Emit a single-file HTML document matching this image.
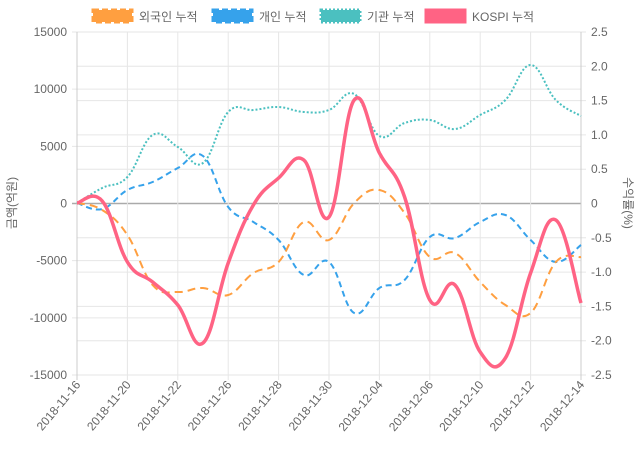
<!DOCTYPE html>
<html><head><meta charset="utf-8"><style>
body{margin:0;background:#fff;width:640px;height:450px;overflow:hidden}
text{font-family:"Liberation Sans","Noto Sans CJK KR",sans-serif;fill:#666;font-size:12px}
</style></head><body>
<svg id="s" width="640" height="450" xmlns="http://www.w3.org/2000/svg">
<g id="grid"></g>
<g id="lines"></g>
<g id="labels"></g>
<g>
<rect x="93" y="10" width="39" height="12" fill="#ff9f40" stroke="#ff9f40" stroke-width="3" stroke-dasharray="6 3"/>
<text x="139" y="21">외국인 누적</text>
<rect x="213" y="10" width="39" height="12" fill="#36a2eb" stroke="#36a2eb" stroke-width="3" stroke-dasharray="6 3"/>
<text x="259" y="21">개인 누적</text>
<rect x="321" y="10" width="39" height="12" fill="#4bc0c0" stroke="#4bc0c0" stroke-width="3" stroke-dasharray="2 2"/>
<text x="367" y="21">기관 누적</text>
<rect x="426" y="10" width="39" height="12" fill="#ff6384" stroke="#ff6384" stroke-width="3"/>
<text x="472" y="21">KOSPI 누적</text>
</g>
<text transform="translate(16,203) rotate(-90)" text-anchor="middle">금액(억원)</text>
<text transform="translate(624,203) rotate(90)" text-anchor="middle">수익률(%)</text>
</svg>
<script>
var NS="http://www.w3.org/2000/svg",x0=77,x1=581,yT=32,yB=375,n=21,dx=(x1-x0)/20;
function el(p,t,a,txt){var e=document.createElementNS(NS,t);for(var k in a)e.setAttribute(k,a[k]);if(txt)e.textContent=txt;p.appendChild(e);return e;}
var g=document.getElementById('grid'),L=document.getElementById('labels'),ln=document.getElementById('lines');
for(var i=0;i<=6;i++){var y=yT+i*(yB-yT)/6;el(g,'line',{x1:x0-5,x2:x1,y1:y,y2:y,stroke:i==3?'#aaa':'#e6e6e6','stroke-width':i==3?1.5:1});
el(L,'text',{x:x0-10,y:y+4,'text-anchor':'end'},String(15000-5000*i));}
for(var i=0;i<=10;i++){var y=yT+i*(yB-yT)/10;if(i!=5)el(g,'line',{x1:x0,x2:x1+5,y1:y,y2:y,stroke:'#e6e6e6'});
var v=(2.5-0.5*i);el(L,'text',{x:x1+10,y:y+4},v==0?'0':v.toFixed(1));}
var d=['2018-11-16','2018-11-20','2018-11-22','2018-11-26','2018-11-28','2018-11-30','2018-12-04','2018-12-06','2018-12-10','2018-12-12','2018-12-14'];
for(var i=0;i<11;i++){var x=x0+i*2*dx;el(g,'line',{x1:x,x2:x,y1:yT,y2:yB+5,stroke:i==0||i==10?'#ccc':'#e6e6e6'});
el(L,'text',{transform:'translate('+(x+4)+','+(yB+10)+') rotate(-50)','text-anchor':'end'},d[i]);}
function path(ys){var p=ys.map(function(y,i){return [x0+i*dx,y]});var s='M'+p[0][0]+','+p[0][1];var t=0.2;
for(var i=0;i<p.length-1;i++){var a=p[i-1]||p[i],b=p[i],c=p[i+1],e=p[i+2]||c;
s+=' C'+(b[0]+(c[0]-a[0])*t)+','+(b[1]+(c[1]-a[1])*t)+' '+(c[0]-(e[0]-b[0])*t)+','+(c[1]-(e[1]-b[1])*t)+' '+c[0]+','+c[1];}return s;}
var teal=[203,188,177,135,147,163,112,110,107,112,110,94,136,123,120,129,115,100,65,100,116];
var blue=[203,209,190,182,168,156,207,222,240,275,262,313,288,280,237,238,222,215,240,262,245];
var orng=[203,210,235,285,292,288,295,273,262,222,240,203,190,213,257,253,282,305,313,262,257];
var red=[203,201,262,282,305,343,263,205,178,160,217,100,153,197,300,285,352,358,273,220,303];
el(ln,'path',{d:path(teal),fill:'none',stroke:'#4bc0c0','stroke-width':2,'stroke-dasharray':'2 2'});
el(ln,'path',{d:path(blue),fill:'none',stroke:'#36a2eb','stroke-width':2,'stroke-dasharray':'6 4'});
el(ln,'path',{d:path(orng),fill:'none',stroke:'#ff9f40','stroke-width':2,'stroke-dasharray':'8 5'});
el(ln,'path',{d:path(red),fill:'none',stroke:'#ff6384','stroke-width':3.5});
</script>
</body></html>
